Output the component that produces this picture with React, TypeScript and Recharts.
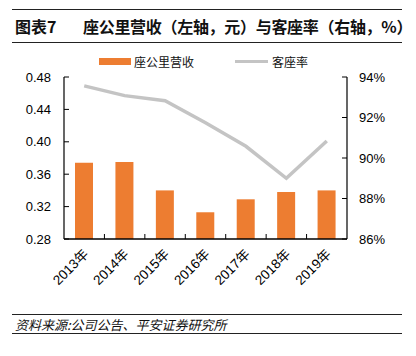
import { Bar, ComposedChart, Line, XAxis, YAxis } from 'recharts'

const YEARS = ['2013年', '2014年', '2015年', '2016年', '2017年', '2018年', '2019年']
const REVENUE_PER_SEAT_KM = [0.374, 0.375, 0.34, 0.313, 0.329, 0.338, 0.34]
const LOAD_FACTOR = [93.56, 93.08, 92.83, 91.74, 90.58, 89.0, 90.84]
const LEFT_TICKS = [0.28, 0.32, 0.36, 0.4, 0.44, 0.48]
const RIGHT_TICKS = [86, 88, 90, 92, 94]

const SERIES_BAR = '座公里营收'
const SERIES_LINE = '客座率'
const TITLE_NO = '图表7'
const TITLE = '座公里营收（左轴，元）与客座率（右轴，%）'
const SOURCE = '资料来源:公司公告、平安证券研究所'

const ORANGE = '#ED7D31'
const GREY = '#C4C4C4'
const FONT = '"Liberation Sans", Arial, "Noto Sans CJK SC", sans-serif'

const W = 416
const H = 356
const PLOT_LEFT = 64
const PLOT_RIGHT = 347
const PLOT_TOP = 77
const PLOT_BOTTOM = 239
const STEP = (PLOT_RIGHT - PLOT_LEFT) / YEARS.length

const data = YEARS.map((year, i) => ({
  year,
  revenue: REVENUE_PER_SEAT_KM[i],
  load: LOAD_FACTOR[i],
}))

function LeftTick({ x, y, payload }: any) {
  return (
    <g>
      <line x1={PLOT_LEFT} x2={PLOT_LEFT + 5} y1={y} y2={y} stroke="#000" />
      <text x={x} y={y} dy={4.5} textAnchor="end" fontSize={13} fill="#000" fontFamily={FONT}>
        {payload.value.toFixed(2)}
      </text>
    </g>
  )
}

function RightTick({ x, y, payload }: any) {
  return (
    <g>
      <line x1={PLOT_RIGHT - 5} x2={PLOT_RIGHT} y1={y} y2={y} stroke="#000" />
      <text x={x} y={y} dy={4.5} textAnchor="start" fontSize={13} fill="#000" fontFamily={FONT}>
        {`${payload.value}%`}
      </text>
    </g>
  )
}

function BottomTick({ x, y, payload, index }: any) {
  const bx = x - STEP / 2
  const ax = x + 5
  const ay = y + 16
  return (
    <g>
      {index > 0 && <line x1={bx} x2={bx} y1={PLOT_BOTTOM} y2={PLOT_BOTTOM - 5} stroke="#000" />}
      <text
        x={ax}
        y={ay}
        textAnchor="end"
        fontSize={13.5}
        fill="#000"
        fontFamily={FONT}
        transform={`rotate(-45 ${ax} ${ay})`}
      >
        {payload.value}
      </text>
    </g>
  )
}

export default function App() {
  return (
    <div style={{ position: 'absolute', left: 0, top: 0, width: W, height: H, background: '#fff', fontFamily: FONT }}>
      <div
        style={{
          position: 'absolute',
          left: 12,
          top: 9,
          width: 390,
          height: 32,
          borderTop: '1.5px solid #222',
          borderBottom: '1.5px solid #222',
          display: 'flex',
          alignItems: 'center',
          fontSize: 16,
          fontWeight: 'bold',
          color: '#111',
          fontFamily: '"Noto Sans CJK SC", sans-serif',
          whiteSpace: 'nowrap',
          overflow: 'visible',
        }}
      >
        <span style={{ marginLeft: 3, width: 68, flexShrink: 0 }}>{TITLE_NO}</span>
        <span style={{ flexShrink: 0, letterSpacing: -0.3 }}>{TITLE}</span>
      </div>

      <div
        style={{
          position: 'absolute',
          top: 53,
          left: 99,
          display: 'flex',
          alignItems: 'center',
          fontSize: 12,
          color: '#111',
          fontFamily: '"Noto Sans CJK SC", sans-serif',
          whiteSpace: 'nowrap',
        }}
      >
        <span style={{ width: 32, height: 7, background: ORANGE, marginRight: 3 }} />
        <span style={{ marginRight: 41 }}>{SERIES_BAR}</span>
        <span style={{ width: 33, height: 3.5, background: GREY, marginRight: 4 }} />
        <span>{SERIES_LINE}</span>
      </div>

      <div style={{ position: 'absolute', left: 0, top: 0 }}>
        <ComposedChart
          width={W}
          height={H}
          data={data}
          margin={{ top: PLOT_TOP, right: 0, bottom: 0, left: 0 }}
          barCategoryGap="28%"
        >
          <XAxis
            dataKey="year"
            height={H - PLOT_BOTTOM}
            tickLine={false}
            tickSize={0}
            tickMargin={0}
            interval={0}
            axisLine={{ stroke: '#000', strokeWidth: 1.5 }}
            tick={<BottomTick />}
          />
          <YAxis
            yAxisId="left"
            orientation="left"
            width={PLOT_LEFT}
            domain={[0.28, 0.48]}
            ticks={LEFT_TICKS}
            tickLine={false}
            tickSize={0}
            tickMargin={13}
            axisLine={{ stroke: '#000', strokeWidth: 1.2 }}
            tick={<LeftTick />}
            allowDataOverflow
          />
          <YAxis
            yAxisId="right"
            orientation="right"
            width={W - PLOT_RIGHT}
            domain={[86, 94]}
            ticks={RIGHT_TICKS}
            tickLine={false}
            tickSize={0}
            tickMargin={12}
            axisLine={{ stroke: '#000', strokeWidth: 1.2 }}
            tick={<RightTick />}
            allowDataOverflow
          />
          <Bar yAxisId="left" dataKey="revenue" name={SERIES_BAR} fill={ORANGE} barSize={18} isAnimationActive={false} />
          <Line
            yAxisId="right"
            dataKey="load"
            name={SERIES_LINE}
            type="linear"
            stroke={GREY}
            strokeWidth={3.5}
            dot={false}
            isAnimationActive={false}
          />
        </ComposedChart>
      </div>

      <div
        style={{
          position: 'absolute',
          left: 12,
          top: 314,
          width: 390,
          height: 18,
          borderTop: '1.5px solid #222',
          borderBottom: '1.5px solid #222',
          display: 'flex',
          alignItems: 'center',
          fontSize: 13,
          fontStyle: 'italic',
          color: '#111',
          fontFamily: '"Noto Sans CJK SC", sans-serif',
          whiteSpace: 'nowrap',
        }}
      >
        <span style={{ marginLeft: 3 }}>{SOURCE}</span>
      </div>
    </div>
  )
}
